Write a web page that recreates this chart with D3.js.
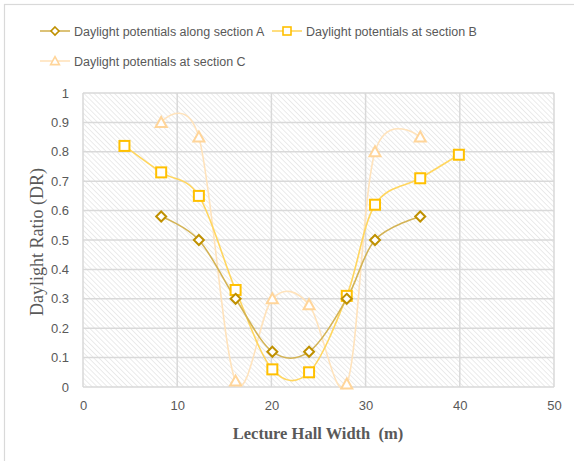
<!DOCTYPE html>
<html><head><meta charset="utf-8">
<script src="https://cdn.jsdelivr.net/npm/d3@7"></script>
<style>body{margin:0;background:#fff}svg{display:block}</style>
</head><body>
<svg id="c" width="574" height="461"></svg>
<script>
const seriesNames = ["Daylight potentials along section A","Daylight potentials at section B","Daylight potentials at section C"];
const xA = [8.3, 12.3, 16.2, 20.1, 24.0, 28.0, 31.0, 35.8];
const yA = [0.58, 0.50, 0.30, 0.12, 0.12, 0.30, 0.50, 0.58];
const xB = [4.4, 8.3, 12.3, 16.2, 20.1, 24.0, 28.0, 31.0, 35.8, 39.9];
const yB = [0.82, 0.73, 0.65, 0.33, 0.06, 0.05, 0.31, 0.62, 0.71, 0.79];
const xC = [8.3, 12.3, 16.2, 20.1, 24.0, 28.0, 31.0, 35.8];
const yC = [0.90, 0.85, 0.02, 0.30, 0.28, 0.01, 0.80, 0.85];
const xTicks = [0,10,20,30,40,50];
const yTicks = [0,0.1,0.2,0.3,0.4,0.5,0.6,0.7,0.8,0.9,1];

const svg = d3.select("#c");
const W=574,H=461;
const x=d3.scaleLinear().domain([0,50]).range([83,554]);
const y=d3.scaleLinear().domain([0,1]).range([387,93]);

// outer border (only top/left visible)
svg.append("rect").attr("x",4.5).attr("y",4.5).attr("width",W+20).attr("height",H+20)
  .attr("fill","#fff").attr("stroke","#d9d9d9").attr("stroke-width",1.2);

const defs=svg.append("defs");
const pat=defs.append("pattern").attr("id","hatch").attr("patternUnits","userSpaceOnUse")
  .attr("width",3.6).attr("height",3.6).attr("patternTransform","rotate(-45)");
pat.append("rect").attr("width",3.6).attr("height",3.6).attr("fill","#fff");
pat.append("line").attr("x1",0).attr("y1",0).attr("x2",0).attr("y2",3.6)
  .attr("stroke","#d4d4d4").attr("stroke-width",0.9);

svg.append("rect").attr("x",x(0)).attr("y",y(1)).attr("width",x(50)-x(0)).attr("height",y(0)-y(1))
  .attr("fill","url(#hatch)");

// gridlines
const g=svg.append("g");
g.selectAll("line.h").data(yTicks).join("line").attr("class","h")
  .attr("x1",x(0)).attr("x2",x(50)).attr("y1",d=>y(d)).attr("y2",d=>y(d))
  .attr("stroke","#d9d9d9").attr("stroke-width",1.5);
g.selectAll("line.v").data(xTicks).join("line").attr("class","v")
  .attr("y1",y(0)).attr("y2",y(1)).attr("x1",d=>x(d)).attr("x2",d=>x(d))
  .attr("stroke","#d9d9d9").attr("stroke-width",1.5);

// axes (labels only)
const tickFont="'Liberation Sans', Arial, sans-serif";
const ya=svg.append("g").attr("transform",`translate(${x(0)},0)`)
  .call(d3.axisLeft(y).tickValues(yTicks).tickSize(0).tickPadding(14).tickFormat(d=>d3.format("")(+d.toFixed(1))));
ya.select(".domain").remove();
ya.selectAll("text").attr("font-family",tickFont).attr("font-size",13).attr("fill","#595959");
const xa=svg.append("g").attr("transform",`translate(0,${y(0)})`)
  .call(d3.axisBottom(x).tickValues(xTicks).tickSize(0).tickPadding(14));
xa.select(".domain").remove();
xa.selectAll("text").attr("font-family",tickFont).attr("font-size",13).attr("fill","#595959");

// titles
svg.append("text").attr("x",318).attr("y",439).attr("text-anchor","middle")
  .attr("font-family","'Liberation Serif','Times New Roman',serif").attr("font-weight","bold")
  .attr("font-size",16.5).attr("fill","#595959").attr("xml:space","preserve").text("Lecture Hall Width  (m)");
svg.append("text").attr("transform","translate(43,242) rotate(-90)").attr("text-anchor","middle")
  .attr("font-family","'Liberation Serif','Times New Roman',serif")
  .attr("font-size",18).attr("fill","#595959").text("Daylight Ratio (DR)");

const series=[
  {name:seriesNames[0], xs:xA, ys:yA, marker:"diamond", mc:"#BF9000", lc:"#D3B355"},
  {name:seriesNames[1], xs:xB, ys:yB, marker:"square", mc:"#FFC000", lc:"#FFD65F"},
  {name:seriesNames[2], xs:xC, ys:yC, marker:"triangle", mc:"#FFD59A", lc:"#FFE3BC"}
];
const line=d3.line().x(d=>x(d[0])).y(d=>y(d[1])).curve(d3.curveCardinal.tension(0));

function drawMarker(sel,type,color){
  if(type==="diamond"){
    sel.append("path").attr("d","M0,-5L5,0L0,5L-5,0Z").attr("fill","#fff").attr("stroke",color).attr("stroke-width",2);
  }else if(type==="square"){
    sel.append("rect").attr("x",-5).attr("y",-5).attr("width",10).attr("height",10).attr("fill","#fff").attr("stroke",color).attr("stroke-width",2);
  }else{
    sel.append("path").attr("d","M0,-5.5L5.5,4.5L-5.5,4.5Z").attr("fill","#fff").attr("stroke",color).attr("stroke-width",2);
  }
}

series.slice().reverse().forEach(s=>{
  const pts=s.xs.map((v,i)=>[v,s.ys[i]]);
  svg.append("path").datum(pts).attr("d",line).attr("fill","none")
    .attr("stroke",s.lc).attr("stroke-width",1.6);
});
series.slice().reverse().forEach(s=>{
  const pts=s.xs.map((v,i)=>[v,s.ys[i]]);
  svg.append("g").selectAll("g").data(pts).join("g")
    .attr("transform",d=>`translate(${x(d[0])},${y(d[1])})`)
    .each(function(){drawMarker(d3.select(this),s.marker,s.mc);});
});

// legend
const legPos=[[40,31],[272,31],[40,61]];
series.forEach((s,i)=>{
  const [lx,ly]=legPos[i];
  const lg=svg.append("g").attr("transform",`translate(${lx},${ly})`);
  lg.append("line").attr("x1",0).attr("x2",30).attr("y1",0).attr("y2",0).attr("stroke",s.lc).attr("stroke-width",1.6);
  const mk=lg.append("g").attr("transform","translate(15,0) scale(0.8)");
  drawMarker(mk,s.marker,s.mc);
  lg.append("text").attr("x",34).attr("y",4.5).attr("font-family",tickFont).attr("font-size",12.5)
    .attr("fill","#595959").text(s.name);
});
</script>
</body></html>
